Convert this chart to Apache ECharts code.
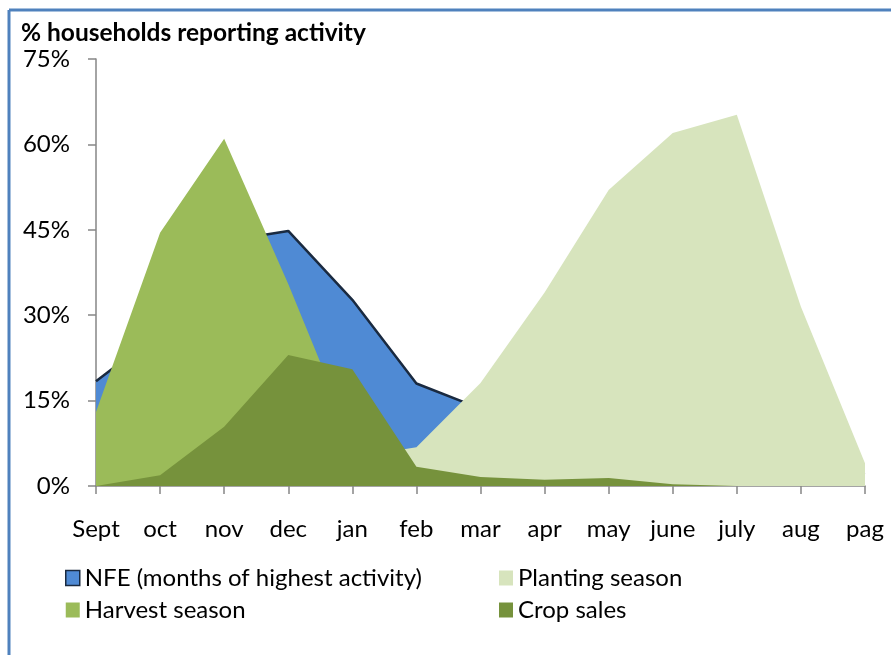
<!DOCTYPE html>
<html>
<head>
<meta charset="utf-8">
<script src="https://cdn.jsdelivr.net/npm/echarts@6/dist/echarts.min.js"></script>
<style>
html,body{margin:0;padding:0;background:#fff;}
#chart{width:891px;height:655px;}
</style>
</head>
<body>
<div id="chart"></div>
<script>
var months = ['Sept','oct','nov','dec','jan','feb','mar','apr','may','june','july','aug','pag'];
var yTicks = [0, 15, 30, 45, 60, 75];
var nfe      = [18.4, 27, 43, 44.8, 32.7, 18, 13.6, 9, 7, 5, 4, 3, 2];
var planting = [1, 1, 2, 3, 5, 6.8, 18.1, 34, 52, 62, 65.2, 31.5, 4];
var harvest  = [13, 44.5, 61, 35.5, 8, 2, 0.5, null, null, null, null, null, null];
var cropSales= [0, 1.9, 10.4, 23, 20.5, 3.4, 1.6, 1.1, 1.4, 0.3, 0, 0, 0];

var FONT = 'Lato';
var chart = echarts.init(document.getElementById('chart'), null, {renderer:'canvas'});
var leg = function(left, items){
  return {
    left: left, top: 561, orient: 'vertical', itemGap: 8,
    icon: 'rect', itemWidth: 14, itemHeight: 15,
    textStyle: {fontFamily: FONT, fontSize: 24, color: '#000'},
    data: items, selectedMode: false
  };
};
chart.setOption({
  animation: false,
  backgroundColor: '#fff',
  title: {
    text: '% households reporting activity',
    left: 16, top: 16,
    textStyle: {fontFamily: FONT, fontWeight: 'bold', fontSize: 24.5, color: '#000'}
  },
  graphic: [
    {type:'line', shape:{x1:9, y1:10, x2:891, y2:10}, style:{stroke:'#4f81bd', lineWidth:3}},
    {type:'line', shape:{x1:9, y1:10, x2:9, y2:655}, style:{stroke:'#4f81bd', lineWidth:3}}
  ],
  legend: [
    leg(60, [
      {name:'NFE (months of highest activity)', itemStyle:{color:'#4f8ad4', borderColor:'#1a2a40', borderWidth:1.5}},
      {name:'Harvest season', itemStyle:{color:'#9bbb59'}}
    ]),
    leg(494, [
      {name:'Planting season', itemStyle:{color:'#d7e4bd'}},
      {name:'Crop sales', itemStyle:{color:'#76923c'}}
    ])
  ],
  grid: {left: 96, right: 26, top: 59, bottom: 169, containLabel: false},
  xAxis: {
    type: 'category', data: months, boundaryGap: false,
    axisLine: {lineStyle: {color: '#868686', width: 1.5}},
    axisTick: {show: true, length: 8, lineStyle: {color: '#868686', width: 1.5}},
    axisLabel: {fontFamily: FONT, fontSize: 24, color: '#000', margin: 31, interval: 0},
    splitLine: {show: false}
  },
  yAxis: {
    type: 'value', min: 0, max: 75, interval: 15,
    axisLine: {show: true, lineStyle: {color: '#868686', width: 1.5}},
    axisTick: {show: true, length: 8, lineStyle: {color: '#868686', width: 1.5}},
    axisLabel: {fontFamily: FONT, fontSize: 24, color: '#000', margin: 26,
      formatter: function(v){ return yTicks.indexOf(v) >= 0 ? v + '%' : ''; }},
    splitLine: {show: false}
  },
  series: [
    {name:'NFE (months of highest activity)', type:'line', data:nfe, symbol:'none',
     lineStyle:{color:'#1a2a40', width:2.5}, itemStyle:{color:'#4f8ad4'},
     areaStyle:{color:'#4f8ad4', opacity:1}, z:1},
    {name:'Planting season', type:'line', data:planting, symbol:'none',
     lineStyle:{width:0, color:'#d7e4bd'}, itemStyle:{color:'#d7e4bd'},
     areaStyle:{color:'#d7e4bd', opacity:1}, z:2},
    {name:'Harvest season', type:'line', data:harvest, symbol:'none',
     lineStyle:{width:0, color:'#9bbb59'}, itemStyle:{color:'#9bbb59'},
     areaStyle:{color:'#9bbb59', opacity:1}, z:3},
    {name:'Crop sales', type:'line', data:cropSales, symbol:'none',
     lineStyle:{width:0, color:'#76923c'}, itemStyle:{color:'#76923c'},
     areaStyle:{color:'#76923c', opacity:1}, z:4}
  ]
});
</script>
</body>
</html>
